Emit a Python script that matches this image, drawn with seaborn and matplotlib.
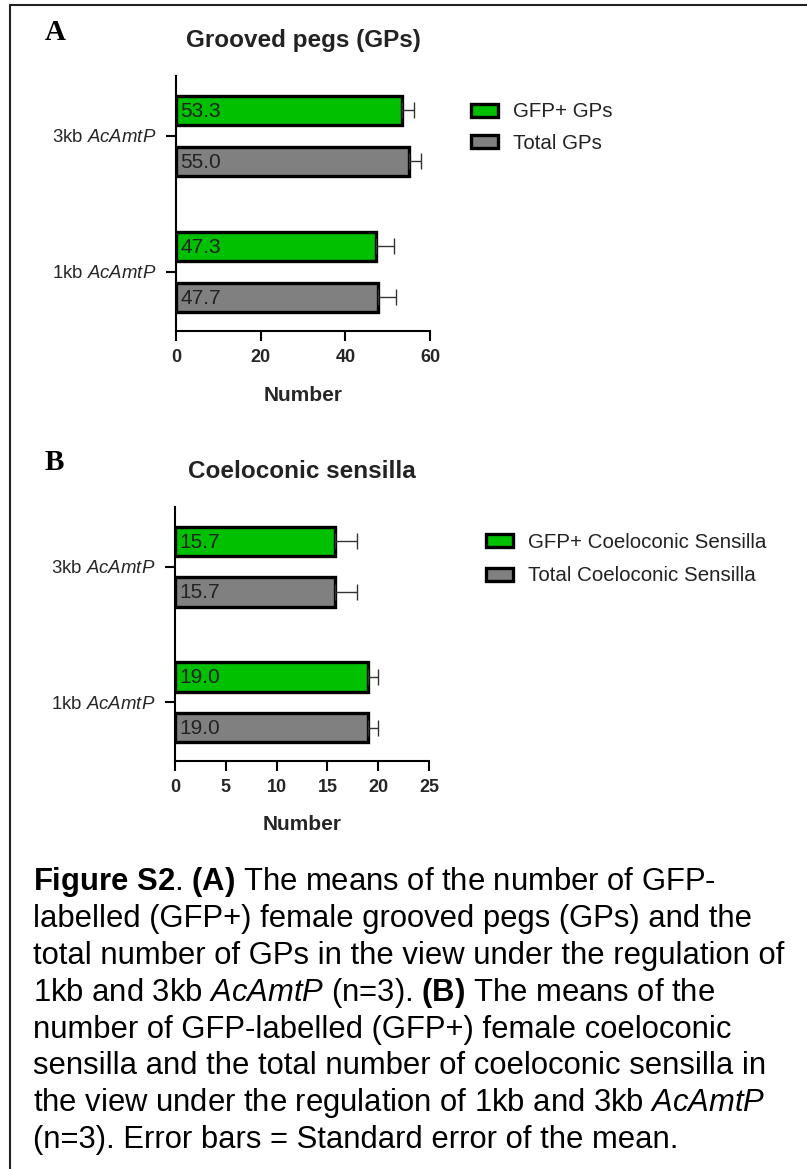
import matplotlib.pyplot as plt
import pandas as pd
import seaborn as sns
from matplotlib.lines import Line2D

W, H = 807, 1169

# data
promoters = ["3kb", "1kb"]
promoter_labels = [r"3kb $\mathit{AcAmtP}$", r"1kb $\mathit{AcAmtP}$"]

gp_series = ["GFP+ GPs", "Total GPs"]
gp_gfp = [53.3, 47.3]
gp_gfp_sem = [2.9, 4.2]
gp_total = [55.0, 47.7]
gp_total_sem = [2.8, 4.3]

cs_series = ["GFP+ Coeloconic Sensilla", "Total Coeloconic Sensilla"]
cs_gfp = [15.7, 19.0]
cs_gfp_sem = [2.2, 1.0]
cs_total = [15.7, 19.0]
cs_total_sem = [2.2, 1.0]

gp_ticks = [0, 20, 40, 60]
cs_ticks = [0, 5, 10, 15, 20, 25]

bar_colors = ["#00c000", "#808080"]

caption_lines = [
    r"$\mathbf{Figure\ S2}$. $\mathbf{(A)}$ The means of the number of GFP-",
    "labelled (GFP+) female grooved pegs (GPs) and the",
    "total number of GPs in the view under the regulation of",
    r"1kb and 3kb $\mathit{AcAmtP}$ (n=3). $\mathbf{(B)}$ The means of the",
    "number of GFP-labelled (GFP+) female coeloconic",
    "sensilla and the total number of coeloconic sensilla in",
    r"the view under the regulation of 1kb and 3kb $\mathit{AcAmtP}$",
    "(n=3). Error bars = Standard error of the mean.",
]


def px_box(left, top, right, bottom):
    return [left / W, 1 - bottom / H, (right - left) / W, (bottom - top) / H]


def draw_panel(ax, series, means, sems, ticks, title, legend_xy, spacing):
    df = pd.DataFrame({
        "promoter": promoters * 2,
        "series": [s for s in series for _ in promoters],
        "value": means[0] + means[1],
    })
    sns.barplot(data=df, x="value", y="promoter", hue="series", order=promoters,
                hue_order=series, palette=bar_colors, saturation=1, orient="h",
                width=0.75, gap=0.42, edgecolor="black", linewidth=2.4,
                errorbar=None, ax=ax)

    # one-sided SEM bars + value labels inside the bars
    for cont, m, e in zip(ax.containers, means, sems):
        ys = [p.get_y() + p.get_height() / 2 for p in cont]
        ax.errorbar(m, ys, xerr=[[0] * len(e), e], fmt="none", ecolor="#333333",
                    elinewidth=1, capsize=5.5, capthick=1, zorder=1)
        for p, v in zip(cont, m):
            ax.annotate(f"{v:.1f}", (p.get_x(), p.get_y() + p.get_height() / 2),
                        xytext=(3, -0.5), textcoords="offset points",
                        ha="left", va="center", fontsize=15, color="#222222")

    ax.set_xlim(0, ticks[-1])
    ax.set_xticks(ticks)
    ax.set_ylim(1.434, -0.441)
    ax.set_yticks(range(len(promoters)))
    ax.set_yticklabels(promoter_labels, fontsize=13.4)
    plt.setp(ax.get_xticklabels(), fontweight="bold", fontsize=13)
    ax.tick_params(axis="both", length=7, width=1.5, color="black")
    ax.tick_params(axis="y", pad=7)
    ax.tick_params(axis="x", pad=6)
    ax.set_ylabel("")
    ax.set_xlabel("Number", fontweight="bold", fontsize=15, labelpad=14)
    ax.set_title(title, fontweight="bold", fontsize=17.5, pad=21)
    for side in ["left", "bottom"]:
        ax.spines[side].set_linewidth(1.5)
    sns.despine(ax=ax)

    sns.move_legend(ax, "center left", bbox_to_anchor=legend_xy,
                    bbox_transform=ax.figure.transFigure, frameon=False,
                    title=None, fontsize=14.8, borderpad=0, borderaxespad=0,
                    handlelength=1.3, handleheight=0.6, handletextpad=0.75,
                    labelspacing=spacing)


sns.set_style("ticks")
plt.rcParams.update({
    "font.family": ["Liberation Sans", "DejaVu Sans"],
    "mathtext.fontset": "custom",
    "mathtext.rm": "Liberation Sans",
    "mathtext.it": "Liberation Sans:italic",
    "mathtext.bf": "Liberation Sans:bold",
    "text.color": "#222222",
    "axes.edgecolor": "black",
})

fig = plt.figure(figsize=(W / 100, H / 100), dpi=100)

ax_a = fig.add_axes(px_box(176, 76, 430, 331))
draw_panel(ax_a, gp_series, [gp_gfp, gp_total], [gp_gfp_sem, gp_total_sem],
           gp_ticks, "Grooved pegs (GPs)", (471 / W, 1 - 127.5 / H), 0.6)

ax_b = fig.add_axes(px_box(175, 507, 429, 761))
draw_panel(ax_b, cs_series, [cs_gfp, cs_total], [cs_gfp_sem, cs_total_sem],
           cs_ticks, "Coeloconic sensilla", (486 / W, 1 - 559 / H), 0.72)

# panel letters
fig.text(45 / W, 1 - 33 / H, "A", family="Liberation Serif", fontweight="bold",
         fontsize=21, va="center", ha="left", color="black")
fig.text(45 / W, 1 - 462 / H, "B", family="Liberation Serif", fontweight="bold",
         fontsize=21, va="center", ha="left", color="black")

# caption
for i, line in enumerate(caption_lines):
    fig.text(33 / W, 1 - (890 + i * 36.9) / H, line, fontsize=22.3,
             va="baseline", ha="left", color="black")

# border box (left and top sides)
fig.add_artist(Line2D([10 / W, 10 / W], [0, 1 - 5 / H], transform=fig.transFigure,
                      color="#222222", lw=1.5))
fig.add_artist(Line2D([10 / W, 1], [1 - 5 / H, 1 - 5 / H], transform=fig.transFigure,
                      color="#222222", lw=1.5))

fig.savefig("out.png", dpi=100)
